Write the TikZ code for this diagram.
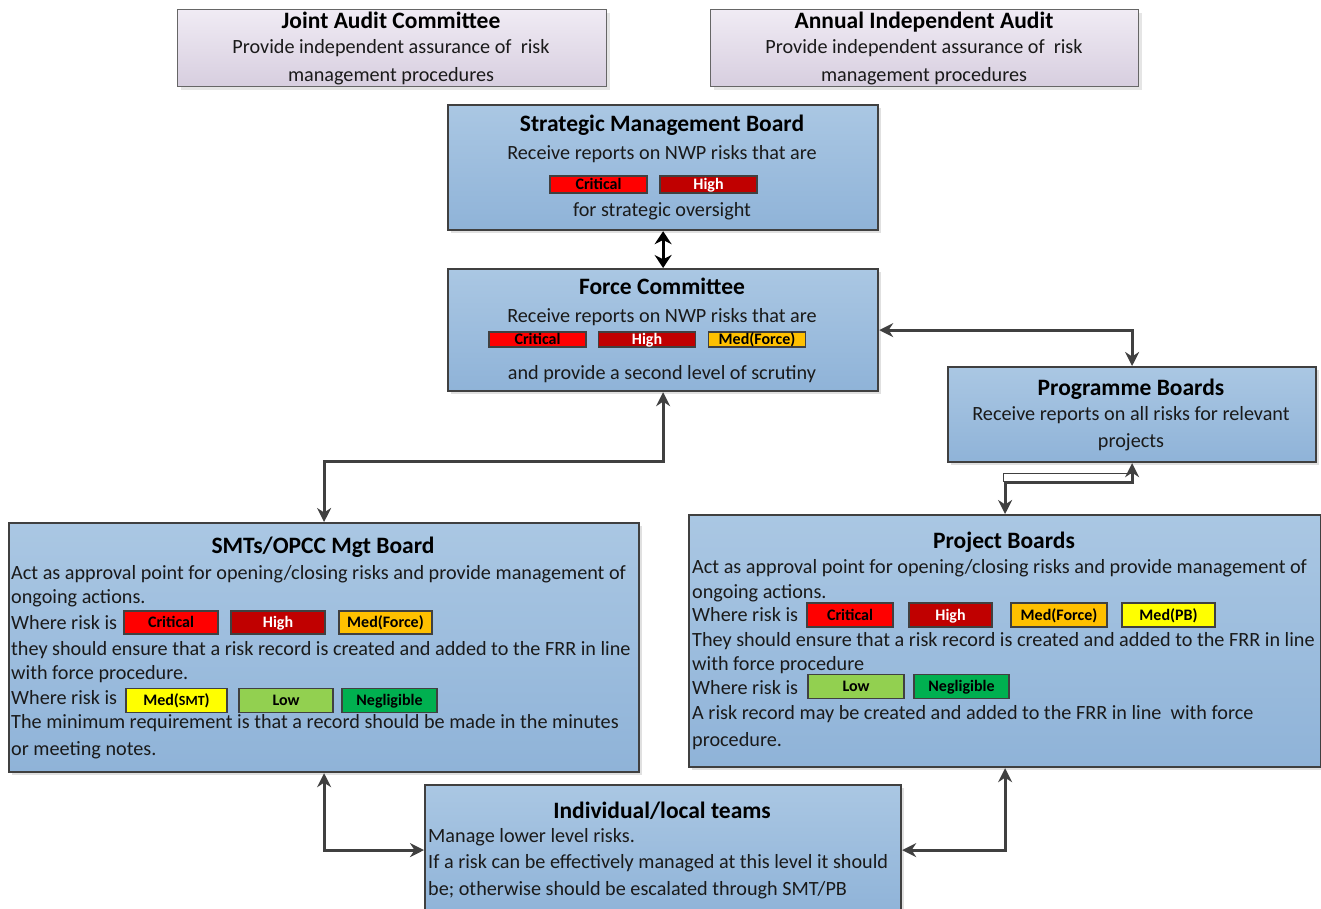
\documentclass[tikz,border=0pt]{standalone}
\usepackage{fontspec}
\setmainfont{Carlito}
\usetikzlibrary{arrows.meta,shadows}
\definecolor{bluetop}{HTML}{AAC7E3}
\definecolor{bluebot}{HTML}{8FB3D8}
\definecolor{lavtop}{HTML}{F0EBF4}
\definecolor{lavbot}{HTML}{D7CEDF}
\definecolor{boxline}{HTML}{404040}
\definecolor{conncol}{HTML}{404040}
\definecolor{crit}{HTML}{FF0000}
\definecolor{high}{HTML}{C00000}
\definecolor{medf}{HTML}{FFC000}
\definecolor{medy}{HTML}{FFFF00}
\definecolor{low}{HTML}{92D050}
\definecolor{negl}{HTML}{00B050}
\definecolor{txt}{HTML}{1A1A1A}
\tikzset{
  bluebox/.style={draw=boxline, line width=2.2pt, top color=bluetop, bottom color=bluebot,
    anchor=north west, inner sep=0pt,
    drop shadow={shadow xshift=3pt, shadow yshift=-3pt, fill=black, opacity=0.12}},
  lavbox/.style={draw=gray!80!black, line width=1pt, top color=lavtop, bottom color=lavbot,
    anchor=north west, inner sep=0pt,
    drop shadow={shadow xshift=3pt, shadow yshift=-3pt, fill=black, opacity=0.1}},
  ttl/.style={font=\bfseries\fontsize{23.5}{27}\selectfont, text=black, inner sep=0pt, text height=18pt, text depth=3pt},
  body/.style={font=\fontsize{20.2}{25}\selectfont, text=txt, inner sep=0pt, text height=16pt, text depth=3pt},
  lbody/.style={body, anchor=west},
  badge/.style={draw=boxline, line width=1.6pt, inner sep=0pt, font=\bfseries\fontsize{16}{16}\selectfont, text height=13pt, text depth=2.5pt},
  conn/.style={draw=conncol, line width=3pt, {Stealth[length=14pt,width=14pt]}-{Stealth[length=14pt,width=14pt]}},
}
\begin{document}
\begin{tikzpicture}[x=1pt,y=-1pt]
\useasboundingbox (0,0) rectangle (1321,908);

% top audit boxes
\node[lavbox, minimum width=429pt, minimum height=77pt] (jac) at (177,9) {};
\node[ttl] (jact) at (391,21) {Joint Audit Committee};
\node[body] (jac1) at (391,47) {Provide independent assurance of\ \ risk};
\node[body] (jac2) at (391,75) {management procedures};

\node[lavbox, minimum width=428pt, minimum height=77pt] (aia) at (710,9) {};
\node[ttl] (aiat) at (924,21) {Annual Independent Audit};
\node[body] (aia1) at (924,47) {Provide independent assurance of\ \ risk};
\node[body] (aia2) at (924,75) {management procedures};

% strategic management board
\node[bluebox, minimum width=430pt, minimum height=125pt] (smb) at (447,104) {};
\node[ttl] (smbt) at (662,124) {Strategic Management Board};
\node[body] (smb1) at (662,153) {Receive reports on NWP risks that are};
\node[badge, fill=crit, text=black, minimum width=97pt, minimum height=17pt] (smbc) at (598.5,184.5) {Critical};
\node[badge, fill=high, text=white, minimum width=97pt, minimum height=17pt] (smbh) at (708.5,184.5) {High};
\node[body] (smb2) at (662,210) {for strategic oversight};

% force committee
\node[bluebox, minimum width=430pt, minimum height=122pt] (fc) at (447,268) {};
\node[ttl] (fct) at (662,287) {Force Committee};
\node[body] (fc1) at (662,316) {Receive reports on NWP risks that are};
\node[badge, fill=crit, text=black, minimum width=97pt, minimum height=15pt] (fcc) at (537.5,339.5) {Critical};
\node[badge, fill=high, text=white, minimum width=97pt, minimum height=15pt] (fch) at (647,339.5) {High};
\node[badge, fill=medf, text=black, minimum width=97pt, minimum height=15pt] (fcm) at (757,339.5) {Med(Force)};
\node[body] (fc2) at (662,373) {and provide a second level of scrutiny};

% programme boards
\node[bluebox, minimum width=368pt, minimum height=95pt] (pb) at (947,366) {};
\node[ttl] (pbt) at (1131,388) {Programme Boards};
\node[body] (pb1) at (1131,414) {Receive reports on all risks for relevant};
\node[body] (pb2) at (1131,441) {projects};

% SMTs / OPCC
\node[bluebox, minimum width=630pt, minimum height=249pt] (smt) at (8,522) {};
\node[ttl] (smtt) at (323,546) {SMTs/OPCC Mgt Board};
\node[lbody] (smt1) at (11,573) {Act as approval point for opening/closing risks and provide management of};
\node[lbody] (smt2) at (11,597) {ongoing actions.};
\node[lbody] (smt3) at (11,623) {Where risk is};
\node[badge, fill=crit, text=black, minimum width=94pt, minimum height=23pt] (smtc) at (171,622.5) {Critical};
\node[badge, fill=high, text=white, minimum width=94pt, minimum height=23pt] (smth) at (278,622.5) {High};
\node[badge, fill=medf, text=black, minimum width=93pt, minimum height=23pt] (smtm) at (385.5,622.5) {Med(Force)};
\node[lbody] (smt4) at (11,649) {they should ensure that a risk record is created and added to the FRR in line};
\node[lbody] (smt5) at (11,673) {with force procedure.};
\node[lbody] (smt6) at (11,698) {Where risk is};
\node[badge, fill=medy, text=black, minimum width=101pt, minimum height=24pt] (smtms) at (176.5,700.5) {Med({\fontsize{14}{14}\selectfont SMT})};
\node[badge, fill=low, text=black, minimum width=94pt, minimum height=24pt] (smtl) at (286,700.5) {Low};
\node[badge, fill=negl, text=black, minimum width=95pt, minimum height=24pt] (smtn) at (389.5,700.5) {Negligible};
\node[lbody] (smt7) at (11,722) {The minimum requirement is that a record should be made in the minutes};
\node[lbody] (smt8) at (11,749) {or meeting notes.};

% project boards
\node[bluebox, minimum width=632pt, minimum height=252pt] (pj) at (688,514) {};
\node[ttl] (pjt) at (1004,541) {Project Boards};
\node[lbody] (pj1) at (692,567) {Act as approval point for opening/closing risks and provide management of};
\node[lbody] (pj2) at (692,592) {ongoing actions.};
\node[lbody] (pj3) at (692,615) {Where risk is};
\node[badge, fill=crit, text=black, minimum width=86pt, minimum height=24pt] (pjc) at (850,615) {Critical};
\node[badge, fill=high, text=white, minimum width=83pt, minimum height=24pt] (pjh) at (950.5,615) {High};
\node[badge, fill=medf, text=black, minimum width=96pt, minimum height=24pt] (pjm) at (1059,615) {Med(Force)};
\node[badge, fill=medy, text=black, minimum width=93pt, minimum height=24pt] (pjmp) at (1168.5,615) {Med(PB)};
\node[lbody] (pj4) at (692,640) {They should ensure that a risk record is created and added to the FRR in line};
\node[lbody] (pj5) at (692,664) {with force procedure};
\node[lbody] (pj6) at (692,688) {Where risk is};
\node[badge, fill=low, text=black, minimum width=96pt, minimum height=24pt] (pjl) at (856,686.5) {Low};
\node[badge, fill=negl, text=black, minimum width=95pt, minimum height=24pt] (pjn) at (961.5,686.5) {Negligible};
\node[lbody] (pj7) at (692,713) {A risk record may be created and added to the FRR in line\ \ with force};
\node[lbody] (pj8) at (692,740) {procedure.};

% individual / local teams
\node[bluebox, minimum width=476pt, minimum height=130pt] (ind) at (424,784) {};
\node[ttl] (indt) at (662,811) {Individual/local teams};
\node[lbody] (ind1) at (428,836) {Manage lower level risks.};
\node[lbody] (ind2) at (428,862) {If a risk can be effectively managed at this level it should};
\node[lbody] (ind3) at (428,889) {be; otherwise should be escalated through SMT/PB};

% connectors
\draw[draw=black, line width=3pt, {Stealth[length=13pt,width=17pt]}-{Stealth[length=13pt,width=17pt]}] (smb.south) -- (fc.north);
\draw[conn] (fc.east) -| (pb.north);
\draw[conn] (smt.north) -- (smt.north |- 0,461) -- (fc.south |- 0,461) -- (fc.south);
\draw[draw=conncol, line width=1pt] (pj.north |- 0,482) ++(-1.5,0) -- ++(0,-9) -- (pb.south |- 0,473) -- ++(0,-4);
\draw[conn] (pj.north) -- (pj.north |- 0,482) -- (pb.south |- 0,482) -- (pb.south);
\draw[conn] (smt.south) |- (ind.west);
\draw[conn] (pj.south) |- (ind.east);
\end{tikzpicture}
\end{document}
